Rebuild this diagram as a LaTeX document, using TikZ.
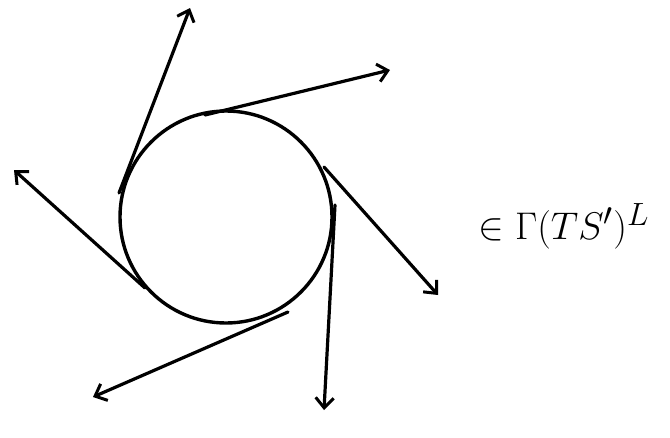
\documentclass[tikz,border=0pt]{standalone}
\usetikzlibrary{arrows.meta}
\begin{document}
\begin{tikzpicture}[x=1pt,y=-1pt,
  stroke/.style={line width=3.2pt,line cap=round,black},
  vec/.style={stroke,-{Straight Barb[length=10pt,width=18pt,line width=3pt]}}]
\useasboundingbox (0,0) rectangle (670,437);
\node[circle,draw,line width=3.4pt,minimum size=212pt,inner sep=0pt] (c) at (226,217) {};
% tangent start points
\coordinate (s1) at (119,193);
\coordinate (s2) at (205,115);
\coordinate (s3) at (324,167);
\coordinate (s4) at (335,205);
\coordinate (s5) at (288,312);
\coordinate (s6) at (145,288);
% tips
\coordinate (t1) at (190,8);
\coordinate (t2) at (390,70);
\coordinate (t3) at (438,295);
\coordinate (t4) at (324,410);
\coordinate (t5) at (93,397);
\coordinate (t6) at (14,170);
\draw[vec] (s1) -- (t1);
\draw[vec] (s2) -- (t2);
\draw[vec] (s3) -- (t3);
\draw[vec] (s4) -- (t4);
\draw[vec] (s5) -- (t5);
\draw[vec] (s6) -- (t6);
\node[font=\fontsize{24.88}{30}\selectfont] (lbl) at (564,226) {\scalebox{1.55}{$\in\Gamma(TS')^{L}$}};
\end{tikzpicture}
\end{document}
